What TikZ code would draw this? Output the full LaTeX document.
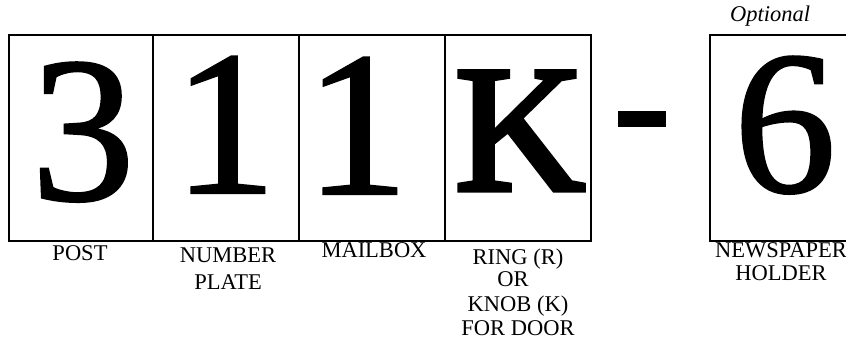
\documentclass[tikz,border=0pt]{standalone}
\usepackage{fontspec}
\usepackage{graphicx}
\setmainfont{Liberation Serif}
\newfontface\heavyserif{Liberation Serif}[FakeBold=1.2]
\newfontface\heavierserif{Liberation Serif}[FakeBold=3]
\newcommand{\bigglyph}[2]{\resizebox*{!}{#1}{\heavyserif #2}}
\begin{document}
\begin{tikzpicture}[x=1pt,y=-1pt,
  box/.style={draw,line width=1.7pt,inner sep=0pt,minimum width=#1,minimum height=206pt,anchor=north west},
  big/.style={inner sep=0pt,anchor=south},
  lab/.style={inner sep=0pt,anchor=north,align=center,font=\fontsize{22.5}{27}\selectfont}]
\useasboundingbox (0,0) rectangle (846,339);
\node[box=144pt] (b1) at (8,34) {};
\node[box=146pt] (b2) at (152,34) {};
\node[box=146pt] (b3) at (298,34) {};
\node[box=146pt] (b4) at (444,34) {};
\node[box=146pt] (b5) at (709,34) {};
\node[big] (d1) at (83,202) {\bigglyph{139pt}{3}};
\node[big] (d2) at (225,193) {\bigglyph{136pt}{1}};
\node[big] (d3) at (357,194) {\bigglyph{136pt}{1}};
\node[big] (d4) at (520,190) {\resizebox*{!}{118pt}{\heavierserif K}};
\node[big] (d5) at (785,194) {\bigglyph{137pt}{6}};
\node[fill,inner sep=0pt,minimum width=48pt,minimum height=16pt] (dash) at (642,119) {};
\node[lab,anchor=base] (l1) at (80,260) {POST};
\node[lab] (l2) at (228,247.3) {NUMBER\\PLATE};
\node[lab,anchor=base] (l3) at (374,258) {MAILBOX};
\node[lab,font=\fontsize{22.5}{25}\selectfont] (l4) at (518,248.4) {RING (R)\\[-3pt]OR\kern10pt\\[0pt]KNOB (K)\\[-1pt]FOR DOOR};
\node[lab,font=\fontsize{22.5}{23}\selectfont] (l5) at (781,242.3) {NEWSPAPER\\HOLDER};
\node[inner sep=0pt,anchor=base,font=\fontsize{22.5}{27}\selectfont\itshape] (opt) at (770,22) {Optional};
\end{tikzpicture}
\end{document}
